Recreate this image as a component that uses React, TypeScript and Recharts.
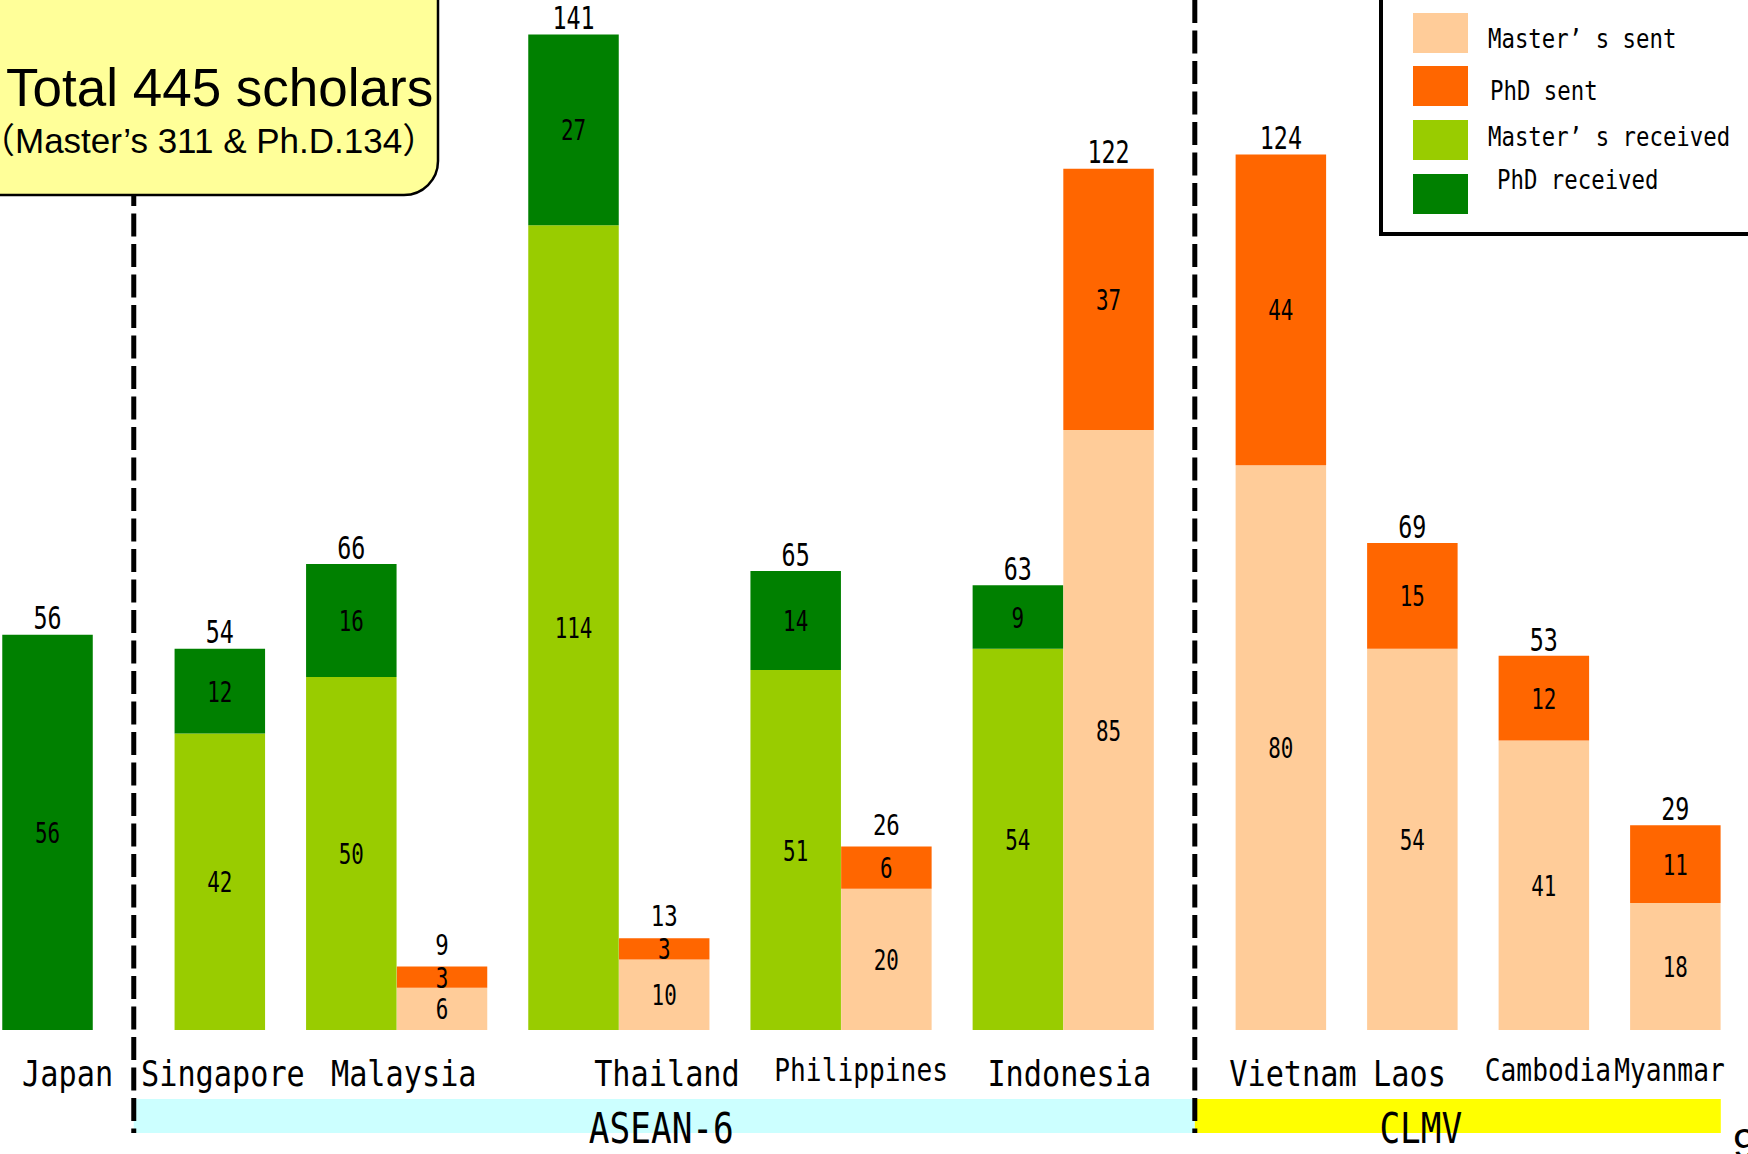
import React from "react";
import { BarChart, Bar, XAxis, YAxis, LabelList, Legend, ReferenceLine, ReferenceArea } from "recharts";

// ---- data ----
const countries = ["Japan", "Singapore", "Malaysia", "Thailand", "Philippines", "Indonesia", "Vietnam", "Laos", "Cambodia", "Myanmar"];
const regions = ["Japan", "ASEAN-6", "ASEAN-6", "ASEAN-6", "ASEAN-6", "ASEAN-6", "CLMV", "CLMV", "CLMV", "CLMV"];
const mastersReceived = [0, 42, 50, 114, 51, 54, 0, 0, 0, 0];
const phdReceived = [56, 12, 16, 27, 14, 9, 0, 0, 0, 0];
const mastersSent = [0, 0, 6, 10, 20, 85, 80, 54, 41, 18];
const phdSent = [0, 0, 3, 3, 6, 37, 44, 15, 12, 11];

const series = [
  { key: "ms", name: "Master’ s sent", color: "#FFCC99" },
  { key: "ps", name: "PhD sent", color: "#FF6600" },
  { key: "mr", name: "Master’ s received", color: "#99CC00" },
  { key: "pr", name: "PhD received", color: "#008000" },
];

const bandColors: Record<string, string> = { "ASEAN-6": "#CCFFFF", CLMV: "#FFFF00" };
const bandLabelDx: Record<string, number> = { "ASEAN-6": -3, CLMV: -37 };

// ---- layout (in bar-width units) ----
const GAP = 0.45;
const REGION_GAP = 0.9;
const BAR_SIZE = 90.5;
const X_DOMAIN = [-0.025, 19.25];
const Y_DOMAIN = [0, 145.9];
const BAND_Y = [-9.77, -14.59];

type Row = { pos: number; country: string; kind: string; mr: number; pr: number; ms: number; ps: number; total: number };
const rows: Row[] = [];
const groups: { country: string; region: string; start: number; end: number; center: number }[] = [];
let cursor = 0;
countries.forEach((c, i) => {
  if (i > 0) cursor += regions[i] !== regions[i - 1] ? REGION_GAP : GAP;
  const start = cursor;
  const rec = mastersReceived[i] + phdReceived[i];
  const sent = mastersSent[i] + phdSent[i];
  if (rec > 0) {
    rows.push({ pos: cursor + 0.5, country: c, kind: "received", mr: mastersReceived[i], pr: phdReceived[i], ms: 0, ps: 0, total: rec });
    cursor += 1;
  }
  if (sent > 0) {
    rows.push({ pos: cursor + 0.5, country: c, kind: "sent", mr: 0, pr: 0, ms: mastersSent[i], ps: phdSent[i], total: sent });
    cursor += 1;
  }
  groups.push({ country: c, region: regions[i], start, end: cursor, center: (start + cursor) / 2 });
});

const regionSpans: { region: string; start: number; end: number }[] = [];
groups.forEach((g) => {
  const last = regionSpans[regionSpans.length - 1];
  if (last && last.region === g.region) last.end = g.end;
  else regionSpans.push({ region: g.region, start: g.start, end: g.end });
});
const separators = regionSpans.slice(1).map((s, i) => (regionSpans[i].end + s.start) / 2);

// ---- text styling ----
const MONO = '"DejaVu Sans Mono", "Liberation Mono", monospace';
const SANS = '"Liberation Sans", Arial, "Noto Sans CJK JP", sans-serif';

const tickStyle: Record<string, { dx: number; size: number; k: number; cy: number }> = {
  Japan: { dx: 20, size: 36, k: 0.84, cy: 1073 },
  Singapore: { dx: 3, size: 36, k: 0.84, cy: 1073 },
  Malaysia: { dx: 7, size: 36, k: 0.84, cy: 1073 },
  Thailand: { dx: 48, size: 36, k: 0.84, cy: 1073 },
  Philippines: { dx: 20, size: 32, k: 0.82, cy: 1069 },
  Indonesia: { dx: 6, size: 36, k: 0.84, cy: 1073 },
  Vietnam: { dx: 12, size: 36, k: 0.84, cy: 1073 },
  Laos: { dx: -3, size: 36, k: 0.84, cy: 1073 },
  Cambodia: { dx: 4, size: 32, k: 0.82, cy: 1069 },
  Myanmar: { dx: -6, size: 32, k: 0.82, cy: 1069 },
};

const MonoText = ({ x, y, size, k, text, anchor = "middle" }: any) => (
  <text
    x={x}
    y={y}
    textAnchor={anchor}
    fontFamily={MONO}
    fontSize={size}
    fill="#000"
    style={{ transform: `scaleX(${k})`, transformBox: "fill-box", transformOrigin: anchor === "start" ? "left" : "center" } as any}
  >
    {text}
  </text>
);

const SegmentLabel = (props: any) => {
  const { value } = props;
  if (!value) return null;
  const vb = props.viewBox || props;
  const cx = vb.x + vb.width / 2;
  const cy = vb.y + vb.height / 2;
  return <MonoText x={cx} y={cy + 0.365 * 29} size={29} k={0.72} text={value} />;
};

const TotalLabel = (props: any) => {
  const { value } = props;
  if (value == null || value === "") return null;
  const vb = props.viewBox || props;
  const cx = vb.x + vb.width / 2;
  const top = Math.min(vb.y, vb.y + vb.height);
  const small = value < 28;
  const size = small ? 28 : 32;
  const lift = small ? 22 : 17;
  return <MonoText x={cx} y={top - lift + 0.365 * size} size={size} k={small ? 0.8 : 0.73} text={value} />;
};

const CountryTick = (props: any) => {
  const { x, payload } = props;
  const g = groups.reduce((a, b) => (Math.abs(b.center - payload.value) < Math.abs(a.center - payload.value) ? b : a));
  const st = tickStyle[g.country];
  return <MonoText x={x + st.dx} y={st.cy + 0.365 * st.size} size={st.size} k={st.k} text={g.country} />;
};

const RegionLabel = (region: string) => (props: any) => {
  const vb = props.viewBox || props;
  const cx = vb.x + vb.width / 2 + (bandLabelDx[region] || 0);
  return <MonoText x={cx} y={1143} size={43} k={0.8} text={region} />;
};

const legendRows = [
  { swatchTop: 13, textY: 39, textX: 1488 },
  { swatchTop: 66, textY: 91, textX: 1490 },
  { swatchTop: 120, textY: 137, textX: 1488 },
  { swatchTop: 174, textY: 180, textX: 1497 },
];

const LegendBox = (props: any) => {
  const payload = props.payload || [];
  return (
    <svg width={369} height={250} style={{ display: "block" }}>
      <g transform="translate(-1379, 10)">
        <rect x={1381} y={-30} width={500} height={264} fill="#fff" stroke="#000" strokeWidth={4} />
        {series.map((s, i) => {
          const p = payload.find((e: any) => e.dataKey === s.key);
          const r = legendRows[i];
          return (
            <g key={s.key}>
              <rect x={1413} y={r.swatchTop} width={55} height={40} fill={(p && p.color) || s.color} />
              <MonoText x={r.textX} y={r.textY + 0.365 * 26} size={26} k={0.86} text={s.name} anchor="start" />
            </g>
          );
        })}
      </g>
    </svg>
  );
};

export default function App() {
  return (
    <div style={{ position: "absolute", left: 0, top: 0, width: 1748, height: 1154, overflow: "hidden", background: "#fff" }}>
      <BarChart width={1748} height={1154} data={rows} margin={{ top: 0, right: 0, bottom: 0, left: 0 }}>
        <XAxis
          type="number"
          dataKey="pos"
          domain={X_DOMAIN}
          allowDataOverflow
          ticks={groups.map((g) => g.center)}
          interval={0}
          height={124}
          axisLine={false}
          tickLine={false}
          tickSize={0}
          tickMargin={0}
          tick={(p: any) => <CountryTick {...p} />}
        />
        <YAxis hide width={0} domain={Y_DOMAIN} allowDataOverflow />
        {regionSpans.map((s, i) =>
          bandColors[s.region] ? (
            <ReferenceArea
              key={s.region}
              x1={separators[i - 1] ?? s.start}
              x2={separators[i] ?? s.end}
              y1={BAND_Y[0]}
              y2={BAND_Y[1]}
              fill={bandColors[s.region]}
              fillOpacity={1}
              stroke="none"
              ifOverflow="visible"
              label={RegionLabel(s.region)}
            />
          ) : null
        )}
        {series.map((s) => (
          <Bar key={s.key} dataKey={s.key} name={s.name} stackId="all" fill={s.color} barSize={BAR_SIZE} isAnimationActive={false}>
            <LabelList dataKey={s.key} content={SegmentLabel} />
            {s.key === "pr" && <LabelList dataKey={(r: Row) => (r.kind === "received" ? r.total : null)} content={TotalLabel} />}
            {s.key === "ps" && <LabelList dataKey={(r: Row) => (r.kind === "sent" ? r.total : null)} content={TotalLabel} />}
          </Bar>
        ))}
        {separators.map((x) => (
          <ReferenceLine
            key={x}
            segment={[{ x, y: Y_DOMAIN[1] }, { x, y: BAND_Y[1] }]}
            stroke="#000"
            strokeWidth={5}
            strokeDasharray="23 7.5"
            ifOverflow="visible"
          />
        ))}
        <Legend
          layout="vertical"
          align="center"
          verticalAlign="middle"
          wrapperStyle={{ left: 1379, top: -10, width: 369, height: 250 }}
          content={LegendBox}
        />
      </BarChart>
      <svg width={1748} height={1154} style={{ position: "absolute", left: 0, top: 0, pointerEvents: "none" }}>
        <rect x={-40} y={-40} width={478} height={235} rx={34} fill="#FFFF99" stroke="#000" strokeWidth={2.5} />
        <text x={6} y={106} fontFamily={SANS} fontSize={53} fill="#000">Total 445 scholars</text>
        <text x={-20} y={153} fontFamily={SANS} fontSize={35} fill="#000">（Master’s 311 &amp; Ph.D.134）</text>
        <text x={1733} y={1158} fontFamily={SANS} fontSize={42} fill="#000">9</text>
      </svg>
    </div>
  );
}
